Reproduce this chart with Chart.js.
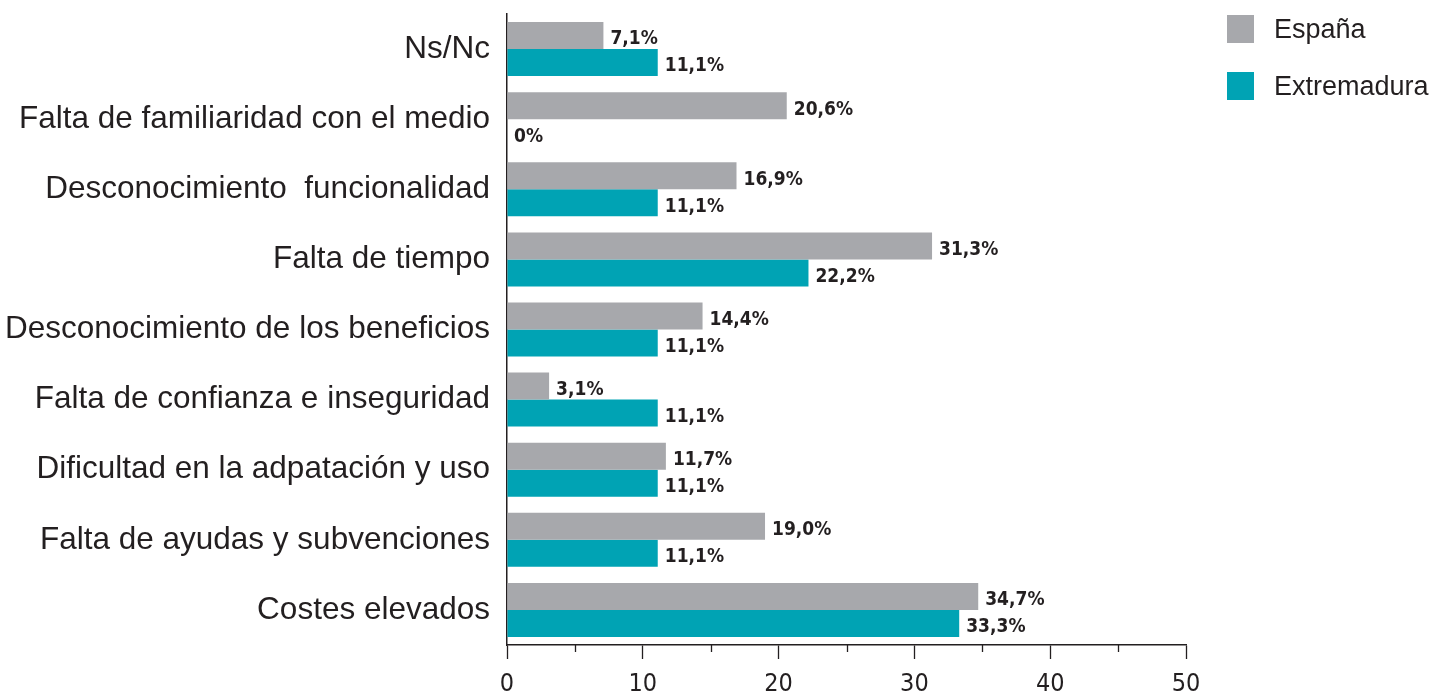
<!DOCTYPE html>
<html>
<head>
<meta charset="utf-8">
<script src="https://cdn.jsdelivr.net/npm/chart.js@4/dist/chart.umd.min.js"></script>
<style>
  html, body { margin: 0; padding: 0; background: #fff; }
  #wrap { width: 1454px; height: 696px; position: relative; }
</style>
</head>
<body>
<div id="wrap"><canvas id="chart"></canvas></div>
<script>
const categories = [
    'Ns/Nc',
    'Falta de familiaridad con el medio',
    'Desconocimiento  funcionalidad',
    'Falta de tiempo',
    'Desconocimiento de los beneficios',
    'Falta de confianza e inseguridad',
    'Dificultad en la adpatación y uso',
    'Falta de ayudas y subvenciones',
    'Costes elevados'
];
const espana = [7.1, 20.6, 16.9, 31.3, 14.4, 3.1, 11.7, 19.0, 34.7];
const extremadura = [11.1, 0, 11.1, 22.2, 11.1, 11.1, 11.1, 11.1, 33.3];
const xTicks = [0, 10, 20, 30, 40, 50];
const minorTicks = [5, 15, 25, 35, 45];

const GRAY = '#a7a8ac';
const TEAL = '#00a3b4';
const TEXT = '#231f20';
const NARROW = '"Liberation Sans Narrow", "DejaVu Sans Condensed", "Liberation Sans", sans-serif';

function fmt(v) {
    if (v === 0) return '0%';
    return v.toFixed(1).replace('.', ',') + '%';
}

// value labels at the end of each bar
const valueLabels = {
    id: 'valueLabels',
    afterDatasetsDraw(chart) {
        const ctx = chart.ctx;
        ctx.save();
        ctx.font = 'bold 19px ' + NARROW;
        ctx.fillStyle = TEXT;
        ctx.textAlign = 'left';
        ctx.textBaseline = 'middle';
        chart.data.datasets.forEach((ds, i) => {
            chart.getDatasetMeta(i).data.forEach((bar, j) => {
                ctx.fillText(fmt(ds.data[j]), bar.x + 7, bar.y + 4);
            });
        });
        ctx.restore();
    }
};

// minor ticks on the x axis + legend at the top right
const extras = {
    id: 'extras',
    afterDraw(chart) {
        const ctx = chart.ctx;
        const x = chart.scales.x;
        ctx.save();
        ctx.strokeStyle = '#231f20';
        ctx.lineWidth = 1.3;
        minorTicks.forEach(v => {
            const px = Math.round(x.getPixelForValue(v)) + 0.5;
            ctx.beginPath();
            ctx.moveTo(px, x.top);
            ctx.lineTo(px, x.top + 7);
            ctx.stroke();
        });

        ctx.font = '27px "Liberation Sans", Arial, sans-serif';
        ctx.textBaseline = 'middle';
        ctx.textAlign = 'left';
        chart.data.datasets.forEach((ds, i) => {
            const top = 15 + i * 57;
            ctx.fillStyle = ds.backgroundColor;
            ctx.fillRect(1227, top, 27, 28);
            ctx.fillStyle = TEXT;
            ctx.fillText(ds.label, 1274, top + 16);
        });
        ctx.restore();
    }
};

new Chart(document.getElementById('chart'), {
    type: 'bar',
    data: {
        labels: categories,
        datasets: [
            { label: 'España', data: espana, backgroundColor: GRAY },
            { label: 'Extremadura', data: extremadura, backgroundColor: TEAL }
        ]
    },
    options: {
        indexAxis: 'y',
        responsive: true,
        maintainAspectRatio: false,
        animation: false,
        categoryPercentage: 0.77,
        barPercentage: 1,
        layout: { padding: { top: 14, right: 268, left: 0, bottom: 0 } },
        plugins: {
            legend: { display: false },
            tooltip: { enabled: false }
        },
        scales: {
            x: {
                min: 0,
                max: 50,
                afterBuildTicks(scale) {
                    scale.ticks = xTicks.map(v => ({ value: v }));
                },
                afterFit(scale) {
                    scale.height = 51;
                    scale.paddingLeft = 0;
                    scale.paddingRight = 0;
                },
                grid: {
                    drawOnChartArea: false,
                    drawTicks: true,
                    tickLength: 14,
                    tickWidth: 1.3,
                    tickColor: '#231f20'
                },
                border: { display: true, color: '#231f20', width: 1.5 },
                ticks: {
                    padding: 10,
                    color: TEXT,
                    font: { family: NARROW, size: 25 },
                    maxRotation: 0
                }
            },
            y: {
                afterFit(scale) {
                    scale.width = 507;
                    scale.paddingTop = 0;
                    scale.paddingBottom = 0;
                },
                grid: { display: false, drawTicks: false },
                border: { display: true, color: '#231f20', width: 1.5 },
                ticks: {
                    padding: 17,
                    color: TEXT,
                    font: { family: '"Liberation Sans", Arial, sans-serif', size: 31.5 }
                }
            }
        }
    },
    plugins: [valueLabels, extras]
});
</script>
</body>
</html>
